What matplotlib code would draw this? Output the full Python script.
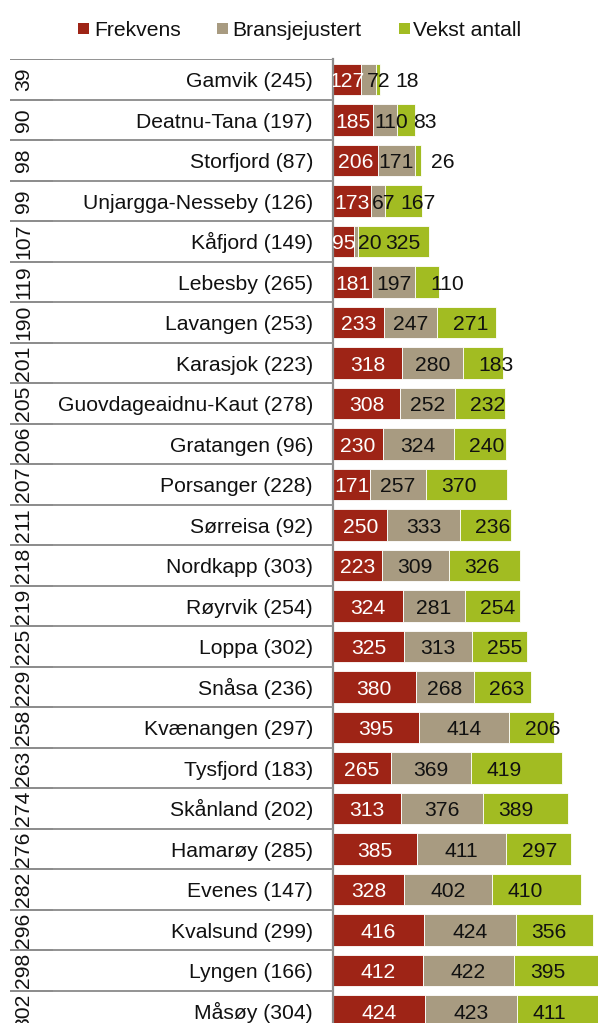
import matplotlib
matplotlib.use("Agg")
import matplotlib.pyplot as plt
from matplotlib.patches import Rectangle

plt.rcParams['font.family'] = ['Liberation Sans', 'DejaVu Sans']

# ---------------- data ----------------
ranks = [39, 90, 98, 99, 107, 119, 190, 201, 205, 206, 207, 211,
         218, 219, 225, 229, 258, 263, 274, 276, 282, 296, 298, 302]
names = ["Gamvik (245)", "Deatnu-Tana (197)", "Storfjord (87)",
         "Unjargga-Nesseby (126)", "Kåfjord (149)", "Lebesby (265)",
         "Lavangen (253)", "Karasjok (223)", "Guovdageaidnu-Kaut (278)",
         "Gratangen (96)", "Porsanger (228)", "Sørreisa (92)",
         "Nordkapp (303)", "Røyrvik (254)", "Loppa (302)", "Snåsa (236)",
         "Kvænangen (297)", "Tysfjord (183)", "Skånland (202)",
         "Hamarøy (285)", "Evenes (147)", "Kvalsund (299)",
         "Lyngen (166)", "Måsøy (304)"]
frekvens = [127, 185, 206, 173, 95, 181, 233, 318, 308, 230, 171, 250,
            223, 324, 325, 380, 395, 265, 313, 385, 328, 416, 412, 424]
bransje = [72, 110, 171, 67, 20, 197, 247, 280, 252, 324, 257, 333,
           309, 281, 313, 268, 414, 369, 376, 411, 402, 424, 422, 423]
vekst = [18, 83, 26, 167, 325, 110, 271, 183, 232, 240, 370, 236,
         326, 254, 255, 263, 206, 419, 389, 297, 410, 356, 395, 411]
series_names = ["Frekvens", "Bransjejustert", "Vekst antall"]
colors = ["#9E2416", "#A89B81", "#A2BC22"]
text_colors = ["white", "#111111", "#111111"]

# ---------------- layout ----------------
W, H, DPI = 598, 1023, 100
FS = 15.2
fig = plt.figure(figsize=(W / DPI, H / DPI), dpi=DPI)

n = len(names)
row_h = 40.5
top = 59.3
ax_left = 333
bottom_px = top + n * row_h
XMAX = 1218

ax = fig.add_axes([ax_left / W, 1 - bottom_px / H, (W - ax_left) / W, n * row_h / H])
ax.set_xlim(0, XMAX)
ax.set_ylim(n - 0.5, -0.5)
ax.set_xticks([])
ax.set_yticks([])
for s in ["top", "right", "bottom"]:
    ax.spines[s].set_visible(False)
ax.spines["left"].set_color("#8C8C8C")
ax.spines["left"].set_linewidth(1.6)

ypos = list(range(n))
lefts = [0] * n
series = [frekvens, bransje, vekst]
for vals, col in zip(series, colors):
    ax.barh(ypos, vals, left=lefts, height=0.77, color=col,
            edgecolor="white", linewidth=0.6)
    lefts = [a + b for a, b in zip(lefts, vals)]

# ---------------- bar labels ----------------
px_per_unit = (W - ax_left) / XMAX
digit_px = 0.556 * FS * DPI / 72
base_off = 7.6 / row_h
for i in range(n):
    f, g, v = frekvens[i], bransje[i], vekst[i]
    # red: centered
    w0 = len(str(f)) * digit_px / px_per_unit
    c0 = f / 2
    right0 = c0 + w0 / 2
    # gray: centered, pushed right if overlapping
    w1 = len(str(g)) * digit_px / px_per_unit
    c1 = max(f + g / 2, right0 + 3 / px_per_unit + w1 / 2)
    right1 = c1 + w1 / 2
    # green: left edge just inside segment start
    w2 = len(str(v)) * digit_px / px_per_unit
    l2 = max(f + g + 15.5 / px_per_unit, right1 + 4 / px_per_unit)
    for x, val, ha, tc in [(c0, f, "center", text_colors[0]),
                           (c1, g, "center", text_colors[1]),
                           (l2, v, "left", text_colors[2])]:
        ax.text(x, i + base_off, str(val), ha=ha, va="baseline",
                fontsize=FS, color=tc, clip_on=True)

# ---------------- left table ----------------
tab = fig.add_axes([0, 1 - bottom_px / H, ax_left / W, n * row_h / H])
tab.set_xlim(0, ax_left)
tab.set_ylim(n - 0.5, -0.5)
tab.axis("off")
for i in range(n + 1):
    tab.plot([10, 53], [i - 0.5, i - 0.5], color="#8A8A8A", lw=1.4,
             solid_capstyle="butt")
    tab.plot([53, ax_left], [i - 0.5, i - 0.5], color="#939393", lw=1.4,
             solid_capstyle="butt")
for i in range(n):
    tab.text(313, i + base_off, names[i], ha="right", va="baseline",
             fontsize=FS, color="#111111")
    tab.text(24, i, str(ranks[i]), ha="center", va="center", rotation=90,
             fontsize=FS, color="#111111")

# ---------------- legend ----------------
leg_items = [(78, 94), (217, 232), (399, 413)]
for (sx, tx), lab, col in zip(leg_items, series_names, colors):
    fig.add_artist(Rectangle((sx / W, 1 - 33.5 / H), 11 / W, 11 / H,
                             transform=fig.transFigure, color=col, lw=0))
    fig.text(tx / W, 1 - 35.5 / H, lab, ha="left", va="baseline",
             fontsize=FS, color="#111111")

fig.savefig("out.png", dpi=DPI)
